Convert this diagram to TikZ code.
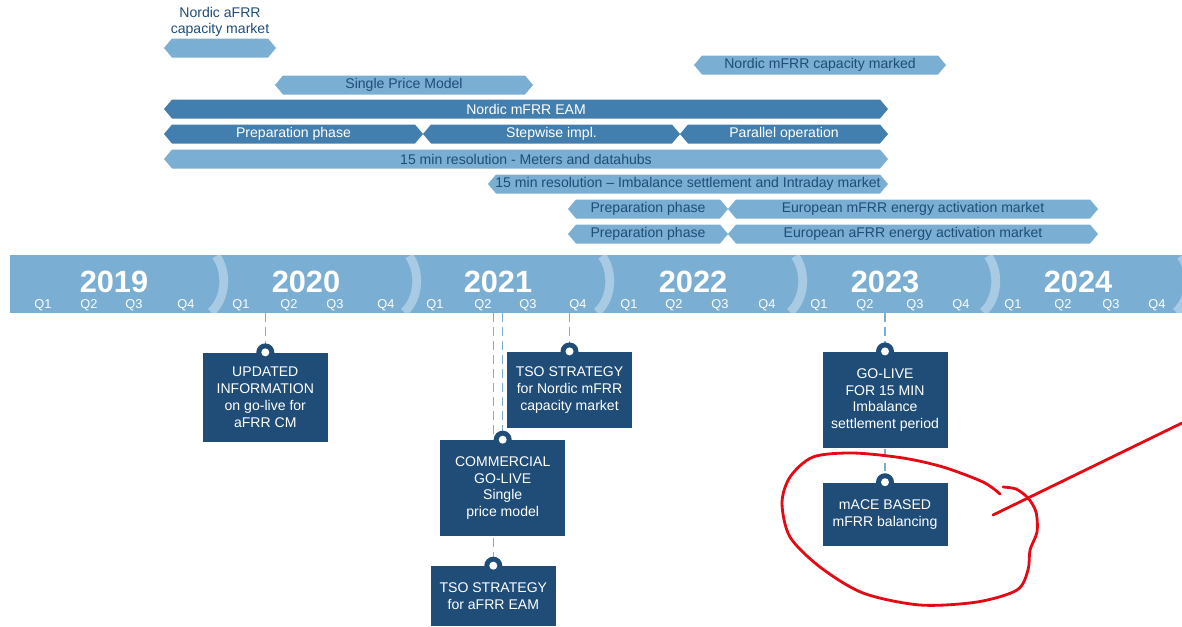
\documentclass[tikz,border=0pt]{standalone}
\usepackage{fontspec}
\setmainfont{Liberation Sans}
\definecolor{bandblue}{RGB}{122,175,211}
\definecolor{barlight}{RGB}{122,175,211}
\definecolor{bardark}{RGB}{66,127,174}
\definecolor{navy}{RGB}{31,77,120}
\definecolor{scribble}{RGB}{228,10,20}
\tikzset{
  lightbar/.style={fill=barlight},
  darkbar/.style={fill=bardark},
  lightlabel/.style={text=navy, inner sep=0pt, font=\fontsize{8}{9}\selectfont},
  darklabel/.style={text=white, inner sep=0pt, font=\fontsize{8}{9}\selectfont},
  eventbox/.style={fill=navy, text=white, align=center, inner sep=0pt,
    minimum width=2.5cm, font=\fontsize{8}{9.6}\selectfont},
  link/.style={draw=barlight, line width=0.9pt, dash pattern=on 5pt off 3pt},
  divider/.style={draw=white, draw opacity=0.35, line width=5pt},
  year/.style={text=white, font=\fontsize{17.5}{20}\selectfont\bfseries},
  quarter/.style={text=white, inner sep=0pt, font=\fontsize{7.3}{8}\selectfont},
  scribble/.style={draw=scribble, line width=1.6pt, line cap=round, line join=round}
}
\newcommand{\hexbar}[6]{%
  \fill[#1bar] (#2,#4) -- (#2+8,#4-9.5) -- (#3-8,#4-9.5) -- (#3,#4)
    -- (#3-8,#4+9.5) -- (#2+8,#4+9.5) -- cycle;
  \node[#1label] (#5) at ({(#2+#3)/2},#4) {#6};}
\newcommand{\knob}[1]{%
  \fill[navy] (#1) circle[radius=0.18cm];
  \fill[white] (#1) circle[radius=0.08cm];}
\begin{document}
\begin{tikzpicture}[x=0.02cm,y=-0.02cm]
  \useasboundingbox (0,0) rectangle (1182,626);

  \node[lightlabel, align=center] (afrrlabel) at (220,22) {Nordic aFRR\\capacity market};
  \hexbar{light}{164}{276}{48}{afrrcm}{}
  \hexbar{light}{694}{946}{65}{mfrrcm}{Nordic mFRR capacity marked}
  \hexbar{light}{275}{533}{85}{spm}{Single Price Model}
  \hexbar{dark}{164}{888}{109}{eam}{Nordic mFRR EAM}
  \hexbar{dark}{164}{423}{134}{prep}{Preparation phase}
  \hexbar{dark}{423}{680}{134}{stepwise}{Stepwise impl.}
  \hexbar{dark}{680}{888}{134}{parallel}{Parallel operation}
  \hexbar{light}{164}{888}{159}{meters}{15 min resolution - Meters and datahubs}
  \hexbar{light}{488}{888}{184}{imbal}{15 min resolution -- Imbalance settlement and Intraday market}
  \hexbar{light}{568}{728}{209}{prepm}{Preparation phase}
  \hexbar{light}{728}{1098}{209}{eumfrr}{European mFRR energy activation market}
  \hexbar{light}{568}{728}{234}{prepa}{Preparation phase}
  \hexbar{light}{728}{1098}{234}{euafrr}{European aFRR energy activation market}

  \fill[bandblue] (10,255) rectangle (1182,313);
  \foreach \x in {216,409,602,795,988,1181}
    \draw[divider] (\x,256) .. controls (\x+11,270) and (\x+11,298) .. (\x-5,312);
  \foreach \yr/\x in {2019/114,2020/306,2021/498,2022/693,2023/885,2024/1078}
    \node[year] (y\yr) at (\x,282) {\yr};
  \foreach \x/\q in {43/1,89/2,134/3,186/4,241/1,289/2,335/3,386/4,435/1,483/2,528/3,578/4,
      629/1,674/2,720/3,767/4,819/1,865/2,915/3,961/4,1013/1,1063/2,1111/3,1157/4}
    \node[quarter] at (\x,305) {Q\q};

  \coordinate (t1) at (265.3,313);
  \coordinate (t2) at (493.3,313);
  \coordinate (t3) at (502.7,313);
  \coordinate (t4) at (569.5,313);
  \coordinate (t5) at (885,313);

  \node[eventbox, minimum height=1.78cm] (updinfo) at (265.3,397.2) {UPDATED\\INFORMATION\\on go-live for\\aFRR CM};
  \node[eventbox, minimum height=1.53cm] (tsomfrr) at (569.5,390) {TSO STRATEGY\\for Nordic mFRR\\capacity market};
  \node[eventbox, minimum height=1.2cm] (tsoafrr) at (493.3,596) {TSO STRATEGY\\for aFRR EAM};
  \node[eventbox, minimum height=1.93cm] (golive15) at (885,400) {GO-LIVE\\FOR 15 MIN\\Imbalance\\settlement period};
  \node[eventbox, minimum height=1.27cm] (mace) at (885,514.3) {mACE BASED\\mFRR balancing};

  \draw[link] (t1) -- (updinfo.north);
  \draw[link] (t2) -- (tsoafrr.north);
  \draw[link] (t3) -- (502.7,440);
  \draw[link] (t4) -- (tsomfrr.north);
  \draw[link] (t5) -- (golive15.north);
  \draw[link] (golive15.south) -- (mace.north);

  \node[eventbox, minimum height=1.92cm] (golive) at (502.7,488) {COMMERCIAL\\GO-LIVE\\Single\\price model};

  \knob{updinfo.north}
  \knob{tsomfrr.north}
  \knob{golive.north}
  \knob{tsoafrr.north}
  \knob{golive15.north}
  \knob{mace.north}

  \draw[scribble] plot[smooth] coordinates {(1000,494) (983,482) (943,467) (903,458) (853,453)
    (813,457) (790,477) (782,503) (790,537) (820,567) (863,593) (920,605) (977,602)
    (1017,590) (1028,570) (1030,550) (1037,532) (1036,512) (1028,498) (1016,489) (1003,487)};
  \draw[scribble] (993,515) -- (1182,423);
\end{tikzpicture}
\end{document}
